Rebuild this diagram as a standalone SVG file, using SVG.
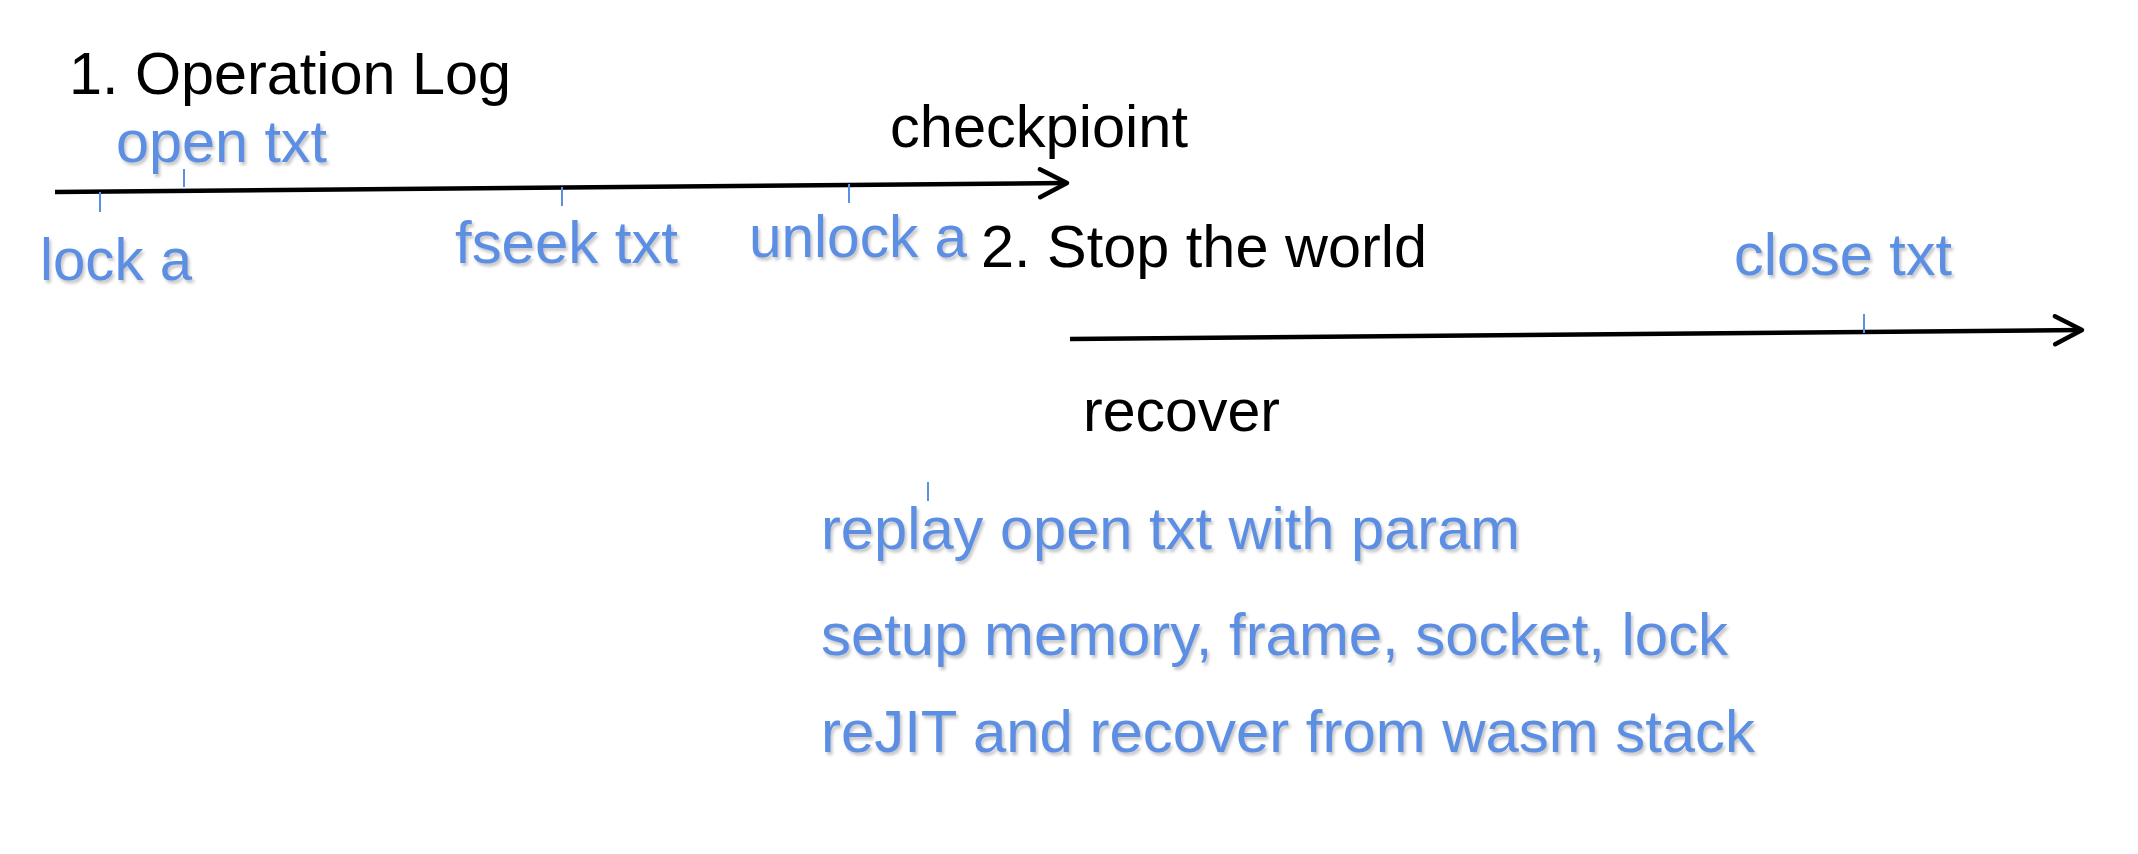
<svg xmlns="http://www.w3.org/2000/svg" width="2138" height="854" viewBox="0 0 2138 854">
  <style>
    .blk { font-family: "Liberation Sans", Arial, sans-serif; font-size: 60px; fill: #000; }
    .blu { font-family: "Liberation Sans", Arial, sans-serif; font-size: 60px; fill: #5B8FE3; filter: url(#sh); }
    .axis { stroke: #000; stroke-width: 4.5; fill: none; marker-end: url(#arr); }
    .tick { stroke: #5B8FE3; stroke-width: 2; }
  </style>
  <defs>
    <filter id="sh" x="-5%" y="-20%" width="110%" height="150%">
      <feDropShadow dx="2" dy="3" stdDeviation="1.5" flood-color="#808080" flood-opacity="0.45"/>
    </filter>
    <marker id="arr" markerUnits="userSpaceOnUse" markerWidth="40" markerHeight="40" viewBox="-30 -20 40 40" refX="0" refY="0" orient="auto" overflow="visible">
      <path d="M-27,-14 L0,0 L-27,14" fill="none" stroke="#000" stroke-width="4.5" stroke-linecap="round" stroke-linejoin="round"/>
    </marker>
  </defs>
  <rect width="2138" height="854" fill="#fff"/>

  <g id="connectors">
    <line class="axis" x1="55" y1="192" x2="1067" y2="183"/>
    <line class="axis" x1="1070" y1="339" x2="2082" y2="330"/>
    <line class="tick" x1="100" y1="192" x2="100" y2="212"/>
    <line class="tick" x1="184" y1="169" x2="184" y2="187"/>
    <line class="tick" x1="562" y1="187" x2="562" y2="206"/>
    <line class="tick" x1="849" y1="184" x2="849" y2="203"/>
    <line class="tick" x1="1864" y1="314" x2="1864" y2="333"/>
    <line class="tick" x1="928" y1="482" x2="928" y2="501"/>
  </g>

  <g id="title-operation-log"><text class="blk" x="69" y="94" textLength="442" lengthAdjust="spacingAndGlyphs">1. Operation Log</text></g>
  <g id="label-checkpoint"><text class="blk" x="890" y="147" textLength="298" lengthAdjust="spacingAndGlyphs">checkpioint</text></g>
  <g id="title-stop-the-world"><text class="blk" x="981" y="267" textLength="446" lengthAdjust="spacingAndGlyphs">2. Stop the world</text></g>
  <g id="label-recover"><text class="blk" x="1083" y="431" textLength="197" lengthAdjust="spacingAndGlyphs">recover</text></g>

  <g id="ev-open-txt"><text class="blu" x="116" y="162" textLength="211" lengthAdjust="spacingAndGlyphs">open txt</text></g>
  <g id="ev-lock-a"><text class="blu" x="40" y="280" textLength="152" lengthAdjust="spacingAndGlyphs">lock a</text></g>
  <g id="ev-fseek-txt"><text class="blu" x="455" y="263" textLength="223" lengthAdjust="spacingAndGlyphs">fseek txt</text></g>
  <g id="ev-unlock-a"><text class="blu" x="749" y="257" textLength="218" lengthAdjust="spacingAndGlyphs">unlock a</text></g>
  <g id="ev-close-txt"><text class="blu" x="1734" y="275" textLength="218" lengthAdjust="spacingAndGlyphs">close txt</text></g>

  <g id="step-replay"><text class="blu" x="821" y="549" textLength="699" lengthAdjust="spacingAndGlyphs">replay open txt with param</text></g>
  <g id="step-setup"><text class="blu" x="821" y="655" textLength="907" lengthAdjust="spacingAndGlyphs">setup memory, frame, socket, lock</text></g>
  <g id="step-rejit"><text class="blu" x="821" y="752" textLength="934" lengthAdjust="spacingAndGlyphs">reJIT and recover from wasm stack</text></g>
</svg>
